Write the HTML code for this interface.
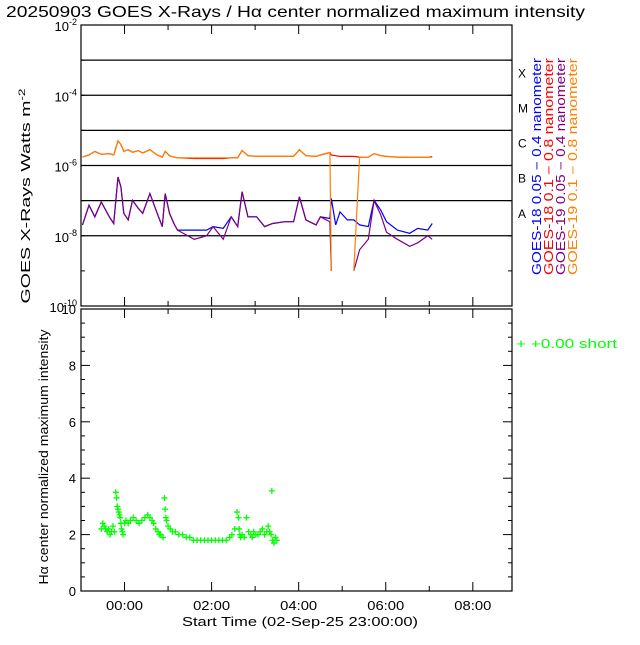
<!DOCTYPE html>
<html><head><meta charset="utf-8"><style>
body{margin:0;background:#fff;width:640px;height:640px;overflow:hidden;font-family:"Liberation Sans",sans-serif}
svg text{font-family:"Liberation Sans",sans-serif}
</style></head><body>
<svg id="c" width="640" height="640" viewBox="0 0 640 640"></svg>
<script>
// ---- data (minutes after 02-Sep-25 23:00); null = data gap ----
const xrTimes=[2,11,19,28,39,45,51,55,59,65,71,79,85,95,105,112,116,122,128,133,156,173,182,196,207,216,222,230,242,253,264,281,293,301,310,324,330,343,345,351,357,367,376,384,396,404,413,421,436,453,464,478,484];
const goes18Short=[-7.69,-7.13,-7.46,-7.04,-7.46,-7.65,-6.33,-6.61,-7.36,-7.55,-6.99,-7.22,-7.36,-6.80,-7.36,-7.74,-6.80,-7.36,-7.65,-7.84,-7.84,-7.84,-7.74,-7.79,-7.46,-7.74,-6.75,-7.46,-7.46,-7.74,-7.65,-7.60,-7.60,-6.89,-7.55,-7.69,-7.46,-7.51,-6.94,-7.69,-7.32,-7.55,-7.55,-7.69,-7.74,-6.99,-7.27,-7.60,-7.84,-7.93,-7.79,-7.84,-7.65];
const goes19Short=[-7.69,-7.13,-7.46,-7.04,-7.46,-7.65,-6.33,-6.61,-7.36,-7.55,-6.99,-7.22,-7.36,-6.80,-7.36,-7.74,-6.80,-7.36,-7.65,-7.84,-8.10,-8.00,-7.74,-8.10,-7.46,-7.74,-6.75,-7.46,-7.46,-7.74,-7.65,-7.60,-7.60,-6.89,-7.55,-7.69,-7.46,-7.60,-9.00,null,null,null,-9.00,-8.40,-8.10,-7.00,-7.40,-7.90,-8.10,-8.30,-8.20,-8.00,-8.10];
const goes18Long=[-5.76,-5.70,-5.60,-5.68,-5.66,-5.70,-5.30,-5.40,-5.60,-5.55,-5.62,-5.58,-5.64,-5.55,-5.70,-5.76,-5.60,-5.72,-5.76,-5.78,-5.80,-5.80,-5.80,-5.80,-5.78,-5.78,-5.57,-5.72,-5.74,-5.74,-5.74,-5.74,-5.74,-5.55,-5.72,-5.74,-5.70,-5.63,-5.70,-5.72,-5.74,-5.74,-5.74,-5.76,-5.76,-5.66,-5.72,-5.74,-5.76,-5.77,-5.77,-5.77,-5.74];
const goes19Long=[-5.76,-5.70,-5.60,-5.68,-5.66,-5.70,-5.30,-5.40,-5.60,-5.55,-5.62,-5.58,-5.64,-5.55,-5.70,-5.76,-5.60,-5.72,-5.76,-5.78,-5.78,-5.78,-5.78,-5.78,-5.78,-5.78,-5.57,-5.72,-5.74,-5.74,-5.74,-5.74,-5.74,-5.55,-5.72,-5.74,-5.70,-5.63,-9.00,null,null,null,-9.00,-5.76,-5.76,-5.66,-5.72,-5.74,-5.76,-5.77,-5.77,-5.77,-5.76];
const haTimes=[28,30,32,34,36,38,40,42,44,46,48,49,50,51,52,53,54,55,56,57,58,60,62,65,68,72,76,80,84,88,92,95,98,100,103,106,108,110,113,115,116,117,118,120,123,126,130,135,140,145,150,155,160,165,170,175,180,185,190,195,200,205,208,212,215,217,218,219,220,222,225,228,231,234,236,238,241,244,247,250,253,256,258,260,262,263,264,266,268,270];
const haValues=[2.2,2.4,2.3,2.2,2.1,2.2,2.0,2.1,2.3,2.1,3.5,3.3,3.0,2.9,2.8,2.7,2.6,2.4,2.2,2.1,2.0,2.4,2.5,2.4,2.5,2.6,2.5,2.4,2.5,2.6,2.7,2.6,2.5,2.4,2.2,2.1,2.0,2.0,1.9,3.3,2.9,2.6,2.5,2.3,2.2,2.1,2.1,2.0,2.0,1.9,1.9,1.8,1.8,1.8,1.8,1.8,1.8,1.8,1.8,1.8,1.8,1.9,2.0,2.2,2.8,2.6,2.2,2.0,1.9,2.0,1.9,2.6,2.1,2.0,1.9,2.1,2.0,2.0,2.1,2.2,2.0,2.1,2.3,2.1,2.0,3.55,1.8,1.7,1.9,1.8];
const xTickLabels=["00:00","02:00","04:00","06:00","08:00"];
const xTickHours=[1,3,5,7,9];
const yTopExps=[-2,-4,-6,-8,-10];
const yBotTicks=[0,2,4,6,8,10];
const classLetters=["A","B","C","M","X"];
const legendLabels=["GOES-18 0.05 \u2212 0.4 nanometer","GOES-18 0.1 \u2212 0.8 nanometer","GOES-19 0.05 \u2212 0.4 nanometer","GOES-19 0.1 \u2212 0.8 nanometer"];
const legendColors=["#0000ff","#ff0000","#800080","#ff8000"];

const NS="http://www.w3.org/2000/svg", svg=document.getElementById('c');
function el(t,a,txt){const e=document.createElementNS(NS,t);for(const k in a)e.setAttribute(k,a[k]);if(txt!=null)e.textContent=txt;svg.appendChild(e);return e;}
const L=81,R=512,T=25,M=306,B=591;
const xs=m=>L+(m/60)*(R-L)/9.9;
const yLog=v=>T+(-2-v)*(M-T)/8;
const yLin=v=>B-v*(B-M-3)/10;

let e;
e=el('text',{x:6,y:17,'font-size':16,fill:'#000',textLength:579,lengthAdjust:'spacingAndGlyphs'},'20250903 GOES X-Rays / H\u03b1 center normalized maximum intensity');


for(let k=-3;k>=-8;k--){e=el('line',{x1:L,x2:R,y1:yLog(k),y2:yLog(k),stroke:'#000','stroke-width':1.3});
}
e=el('rect',{x:L,y:T,width:R-L,height:M-T,fill:'none',stroke:'#000','stroke-width':1.2});

e=el('rect',{x:L,y:M+3,width:R-L,height:B-M-3,fill:'none',stroke:'#000','stroke-width':1.2});

for(let h=1;h<=9;h++){const x=xs(h*60),len=(h%2)?9:5;
 for(const [y0,d] of [[T,1],[M,-1],[M+3,1],[B,-1]]){e=el('line',{x1:x,x2:x,y1:y0,y2:y0+d*len,stroke:'#000'});
 }}
xTickHours.forEach((h,i)=>{e=el('text',{x:xs(h*60),y:610,'font-size':13,'text-anchor':'middle',textLength:37,lengthAdjust:'spacingAndGlyphs'},xTickLabels[i]);
 });
e=el('text',{x:300,y:626,'font-size':13,'text-anchor':'middle',textLength:236,lengthAdjust:'spacingAndGlyphs'},'Start Time (02-Sep-25 23:00:00)');

yTopExps.forEach(k=>{const y=yLog(k);e=el('text',{x:77,y:y+6,'font-size':13,'text-anchor':'end'});
 e.innerHTML='10<tspan dy="-6" font-size="9">'+k+'</tspan>';
 });
for(let k=-3;k>=-9;k--){for(const [x0,d] of [[L,1],[R,-1]]){e=el('line',{x1:x0,x2:x0+d*4,y1:yLog(k),y2:yLog(k),stroke:'#000'});
 }}
e=el('text',{transform:'translate(30,196) rotate(-90)','font-size':13,'text-anchor':'middle'});
e.innerHTML='GOES X-Rays Watts m<tspan dy="-5" font-size="9">-2</tspan>';
e.setAttribute('textLength',215);e.setAttribute('lengthAdjust','spacingAndGlyphs');

yBotTicks.forEach(v=>{e=el('text',{x:76,y:yLin(v)+5,'font-size':13,'text-anchor':'end'},String(v));
 });
for(let v=0.5;v<10;v+=0.5){const len=(v%2===0)?9:4;for(const [x0,d] of [[L,1],[R,-1]]){e=el('line',{x1:x0,x2:x0+d*len,y1:yLin(v),y2:yLin(v),stroke:'#000'});
 }}
e=el('text',{transform:'translate(48,457) rotate(-90)','font-size':13,'text-anchor':'middle',textLength:255,lengthAdjust:'spacingAndGlyphs'},'H\u03b1 center normalized maximum intensity');

classLetters.forEach((c,i)=>{e=el('text',{x:518,y:yLog(-8+i)-18,'font-size':12},c);
 });
legendLabels.forEach((t,i)=>{e=el('text',{transform:`translate(${541+i*12},275) rotate(-90)`,'font-size':12.5,fill:legendColors[i],textLength:217,lengthAdjust:'spacingAndGlyphs'},t);
 });
function line(vals,col,name){let d='',pen=false;
 vals.forEach((v,i)=>{if(v===null){pen=false;return;}d+=(pen?'L':'M')+xs(xrTimes[i]).toFixed(1)+','+yLog(v).toFixed(1);pen=true;});
 e=el('path',{d:d,fill:'none',stroke:col,'stroke-width':1.2});}
line(goes18Short,'#0000ff','goes18-short-line');
line(goes19Short,'#800080','goes19-short-line');
line(goes18Long,'#ff0000','goes18-long-line');
line(goes19Long,'#ff8000','goes19-long-line');
haTimes.forEach((m,i)=>{const x=xs(m),y=yLin(haValues[i]);
 e=el('path',{d:`M${x-3},${y}h6M${x},${y-3}v6`,stroke:'#00ff00','stroke-width':1.3});
 });
e=el('text',{x:516,y:348,'font-size':13,fill:'#00ff00',textLength:101,lengthAdjust:'spacingAndGlyphs'},'+  +0.00 short');

</script>
</body></html>
